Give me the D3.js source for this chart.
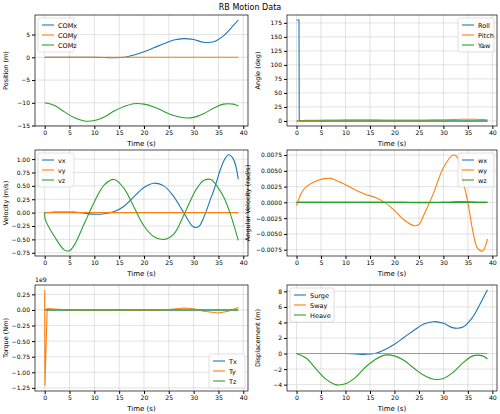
<!DOCTYPE html>
<html><head><meta charset="utf-8">
<script src="https://cdn.jsdelivr.net/npm/d3@7"></script>
<style>body{margin:0;background:#fff}text{font-family:"DejaVu Sans",sans-serif}</style>
</head><body>
<script>
// sampled time points (s)
var t = [0,2,4,6,8,10,12,14,16,18,20,22,24,26,28,30,32,34,36,38,39];

var comX = [0,0,0,0,0,0,-0.05,-0.1,0,0.5,1.2,2.1,3.0,3.8,4.1,3.9,3.3,3.4,4.7,7.0,8.2];
var comY = t.map(function() { return 0; });
var comZ = [-10,-10.6,-12,-13.3,-14,-13.9,-13.1,-11.8,-10.8,-10.2,-10.3,-10.9,-11.9,-12.8,-13.3,-13.2,-12.4,-11.2,-10.3,-10.3,-10.7];

var tRoll = [0,0.5,0.55,2,39];
var roll = [180,180,0,0,0];
var pitch = [0,1,1.3,1.6,1.8,2,2,2,1.9,1.8,1.7,1.6,1.6,1.7,1.9,2.2,2.6,3,3.1,2.5,2];
var yaw = t.map(function() { return 0; });

var tV = [0,0.1,2,4,5,6,8,10,12,14,16,18,20,22,24,26,28,30,31,32,33.5,34,36,37,38,39];
var vx = [0,0,0.01,0.01,0.01,0.01,-0.01,-0.03,-0.02,0.02,0.12,0.3,0.47,0.55,0.5,0.3,0,-0.27,-0.26,-0.1,0.28,0.4,0.95,1.08,1.0,0.62];
var vy = tV.map(function() { return 0; });
var vz = [0,-0.12,-0.45,-0.7,-0.71,-0.6,-0.2,0.2,0.52,0.62,0.45,0.1,-0.25,-0.45,-0.5,-0.4,-0.05,0.35,0.5,0.6,0.62,0.58,0.3,0.08,-0.2,-0.52];

var tW = [0,1,2,4,6,7,8,10,12,14,16,18,20,22,24,25,26,28,30,32,33,34,35,36,37,38,39];
var wx = [0,0,0,0,0,0,0,0,0,0,0,0,0,0,-0.00005,-0.00005,-0.00005,-0.00003,0,0.00005,0.0001,0.0001,0.0001,0.00005,0,0,0];
var wy = [-0.0005,0.0015,0.0025,0.0034,0.0038,0.0038,0.0035,0.0028,0.002,0.0013,0.0008,0,-0.0013,-0.0028,-0.0037,-0.0035,-0.002,0.0015,0.0055,0.0075,0.007,0.0035,0,-0.0045,-0.0073,-0.0077,-0.0058];
var wz = tW.map(function() { return 0; });

// torque in units of 1e9 Nm
var tT = [0,0.02,0.05,0.5,5,10,15,20,24,28,30,32,35,37,39];
var tqx = tT.map(function() { return 0; });
var tqy = [0,0.32,-1.22,0.02,0,0,0,-0.005,0,0.03,0.02,-0.02,-0.05,-0.02,0.04];
var tqz = tT.map(function() { return 0; });

var surge = comX;
var sway = comY;
var heave = comZ.map(function(v) { return v + 10; });

var colors = ["#1f77b4", "#ff7f0e", "#2ca02c"];

var panels = [
  {x:35, y:15, w:213, h:111, yLabel:"Position (m)", yDom:[-15.1,9.3], yTicks:[-15,-10,-5,0,5], fmt:d3.format("d"),
   names:["COMx","COMy","COMz"], series:[[t,comX],[t,comY],[t,comZ]], leg:"ul"},
  {x:287, y:15, w:210, h:111, yLabel:"Angle (deg)", yDom:[-9,189], yTicks:[0,25,50,75,100,125,150,175], fmt:d3.format("d"),
   names:["Roll","Pitch","Yaw"], series:[[tRoll,roll],[t,pitch],[t,yaw]], leg:"ur", linear:true},
  {x:35, y:150, w:213, h:106, yLabel:"Velocity (m/s)", yDom:[-0.81,1.17], yTicks:[-0.75,-0.5,-0.25,0,0.25,0.5,0.75,1], fmt:d3.format(".2f"),
   names:["vx","vy","vz"], series:[[tV,vx],[tV,vy],[tV,vz]], leg:"ul"},
  {x:287, y:150, w:210, h:106, yLabel:"Angular Velocity (rad/s)", yDom:[-0.0085,0.0083], yTicks:[-0.0075,-0.005,-0.0025,0,0.0025,0.005,0.0075], fmt:d3.format(".4f"),
   names:["wx","wy","wz"], series:[[tW,wx],[tW,wy],[tW,wz]], leg:"ur"},
  {x:35, y:285, w:213, h:106, yLabel:"Torque (Nm)", yDom:[-1.3,0.4], yTicks:[-1.25,-1,-0.75,-0.5,-0.25,0,0.25], fmt:d3.format(".2f"),
   names:["Tx","Ty","Tz"], series:[[tT,tqx],[tT,tqy],[tT,tqz]], leg:"lr", offset:"1e9", linear:true},
  {x:287, y:285, w:210, h:106, yLabel:"Displacement (m)", yDom:[-4.82,8.82], yTicks:[-4,-2,0,2,4,6,8], fmt:d3.format("d"),
   names:["Surge","Sway","Heave"], series:[[t,surge],[t,sway],[t,heave]], leg:"ul"}
];

var svg = d3.select("body").append("svg").attr("width", 500).attr("height", 414);

svg.append("text").attr("x", 250).attr("y", 10).attr("text-anchor", "middle")
   .attr("font-size", "8px").text("RB Motion Data");

panels.forEach(function(p) {
  var g = svg.append("g").attr("transform", "translate(" + p.x + "," + p.y + ")");
  var xScale = d3.scaleLinear().domain([-1.95, 40.95]).range([0, p.w]);
  var yScale = d3.scaleLinear().domain(p.yDom).range([p.h, 0]);

  // grid
  g.selectAll(".gx").data([0,5,10,15,20,25,30,35,40]).enter().append("line")
   .attr("x1", function(d) { return xScale(d); }).attr("x2", function(d) { return xScale(d); })
   .attr("y1", 0).attr("y2", p.h).attr("stroke", "#b0b0b0").attr("stroke-opacity", 0.6).attr("stroke-width", 0.6);
  g.selectAll(".gy").data(p.yTicks).enter().append("line")
   .attr("y1", function(d) { return yScale(d); }).attr("y2", function(d) { return yScale(d); })
   .attr("x1", 0).attr("x2", p.w).attr("stroke", "#b0b0b0").attr("stroke-opacity", 0.6).attr("stroke-width", 0.6);

  var line = d3.line().x(function(d) { return xScale(d[0]); }).y(function(d) { return yScale(d[1]); })
    .curve(p.linear ? d3.curveLinear : d3.curveCatmullRom.alpha(0.5));
  p.series.forEach(function(s, i) {
    var pts = s[0].map(function(tt, j) { return [tt, s[1][j]]; });
    g.append("path").attr("d", line(pts)).attr("fill", "none")
     .attr("stroke", colors[i]).attr("stroke-width", 1.1);
  });

  var xAxis = d3.axisBottom(xScale).tickValues([0,5,10,15,20,25,30,35,40]).tickSize(3).tickPadding(2);
  var yAxis = d3.axisLeft(yScale).tickValues(p.yTicks).tickFormat(function(d) {
    return p.fmt(d).replace("-", "\u2212");
  }).tickSize(3).tickPadding(2);
  g.append("g").attr("transform", "translate(0," + p.h + ")").call(xAxis)
   .call(function(a) { a.select(".domain").remove(); a.selectAll("text").attr("font-size", "6.2px").attr("font-family", "DejaVu Sans"); });
  g.append("g").call(yAxis)
   .call(function(a) { a.select(".domain").remove(); a.selectAll("text").attr("font-size", "6px").attr("font-family", "DejaVu Sans"); });
  g.append("rect").attr("width", p.w).attr("height", p.h).attr("fill", "none").attr("stroke", "#000").attr("stroke-width", 0.7);

  g.append("text").attr("x", p.w / 2).attr("y", p.h + 20).attr("text-anchor", "middle")
   .attr("font-size", "7px").text("Time (s)");
  g.append("text").attr("transform", "rotate(-90)").attr("x", -p.h / 2).attr("y", p.yLabel.length > 20 ? -37 : -27)
   .attr("text-anchor", "middle").attr("font-size", "6.5px").text(p.yLabel);
  if (p.offset) {
    g.append("text").attr("x", 0).attr("y", -3).attr("font-size", "6.2px").text(p.offset);
  }

  // legend
  var lw = p.names[0].length > 4 ? 44 : 36, lh = 34;
  var lxp = p.leg === "ul" ? 3 : p.w - lw - 3;
  var lyp = p.leg === "lr" ? p.h - lh - 3 : 3;
  var lg = g.append("g").attr("transform", "translate(" + lxp + "," + lyp + ")");
  lg.append("rect").attr("width", lw).attr("height", lh).attr("rx", 2)
    .attr("fill", "#fff").attr("fill-opacity", 0.8).attr("stroke", "#ccc").attr("stroke-width", 0.6);
  p.names.forEach(function(n, i) {
    lg.append("line").attr("x1", 4).attr("x2", 16).attr("y1", 7 + i * 10).attr("y2", 7 + i * 10)
      .attr("stroke", colors[i]).attr("stroke-width", 1.1);
    lg.append("text").attr("x", 20).attr("y", 9.5 + i * 10).attr("font-size", "6.5px").text(n);
  });
});
</script>
</body></html>
